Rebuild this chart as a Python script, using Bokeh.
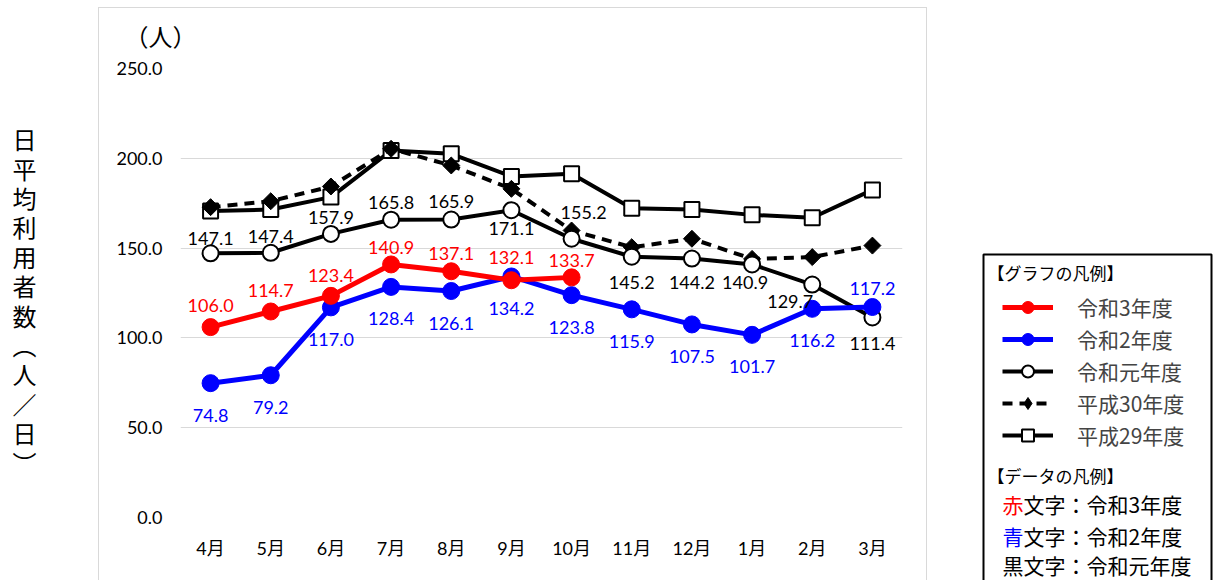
import numpy as np
from bokeh.plotting import figure
from bokeh.layouts import row, column
from bokeh.models import (ColumnDataSource, FactorRange, Range1d, LabelSet, Label, Legend,
                          LegendItem, BoxAnnotation, FixedTicker, NumeralTickFormatter)
from bokeh.core.properties import value
from bokeh.embed import file_html
from bokeh.resources import INLINE

# ---------------- data ----------------
months = ["4月", "5月", "6月", "7月", "8月", "9月", "10月", "11月", "12月", "1月", "2月", "3月"]
r3 = [106.0, 114.7, 123.4, 140.9, 137.1, 132.1, 133.7]
r2 = [74.8, 79.2, 117.0, 128.4, 126.1, 134.2, 123.8, 115.9, 107.5, 101.7, 116.2, 117.2]
r1 = [147.1, 147.4, 157.9, 165.8, 165.9, 171.1, 155.2, 145.2, 144.2, 140.9, 129.7, 111.4]
h30 = [172.8, 176.1, 184.3, 205.3, 196.0, 183.0, 159.8, 150.5, 155.2, 144.0, 145.0, 151.4]
h29 = [170.6, 171.5, 178.4, 204.3, 202.5, 189.9, 191.4, 172.2, 171.5, 168.5, 166.9, 182.4]
y_ticks = [0, 50, 100, 150, 200, 250]
series_names = ["令和3年度", "令和2年度", "令和元年度", "平成30年度", "平成29年度"]

# ---------------- label placement (screen px, up positive) ----------------
r3_dx = [0] * 7
r3_dy = [22, 21, 20, 17, 18, 23, 17]
r2_dx = [0] * 12
r2_dy = [-32] * 11 + [19]
r1_dx = [0, 0, 0, 0, 0, 0, 12, 0, 0, -7, -22, 0]
r1_dy = [15, 16, 16, 17, 18, -18, 26, -26, -24, -18, -17, -26]

NUM_FONT = "Lato"
JP_FONT = "Noto Sans CJK JP"
RED = "#ff0000"
BLUE = "#0000ff"
H = 580
W_MAIN = 829
GRAY = "#d9d9d9"


def bare(width, height):
    f = figure(width=width, height=height, x_range=Range1d(0, 1), y_range=Range1d(0, 1),
               x_axis_type=None, y_axis_type=None, output_backend="svg",
               toolbar_location=None, min_border=0)
    f.title.visible = False
    f.outline_line_color = None
    return f


# ---------------- main chart ----------------
p = figure(width=W_MAIN, height=H,
           x_range=FactorRange(*months, range_padding=0),
           y_range=Range1d(0, 250),
           output_backend="svg", toolbar_location=None,
           min_border_left=82, min_border_right=25,
           min_border_top=68, min_border_bottom=H - 517)
p.title.text = "（人）"
p.title.align = "left"
p.title.offset = -56
p.title.standoff = 31
p.title.text_font = JP_FONT
p.title.text_font_size = "24px"
p.title.text_font_style = "normal"
p.title.text_color = "black"
p.outline_line_color = None
p.background_fill_color = "white"
p.border_fill_color = None
# light-gray chart-area border (top at 8px, left and right edges)
p.styles = {
    "background-image": (f"linear-gradient({GRAY}, {GRAY}), linear-gradient({GRAY}, {GRAY}), "
                         f"linear-gradient({GRAY}, {GRAY})"),
    "background-size": "100% 1px, 1px 100%, 1px 100%",
    "background-position": "0 7px, 0 7px, right 0 top 7px",
    "background-repeat": "no-repeat",
}

p.xgrid.visible = False
p.ygrid.grid_line_color = GRAY
p.ygrid.grid_line_width = 1

p.yaxis.ticker = FixedTicker(ticks=y_ticks)
p.yaxis.formatter = NumeralTickFormatter(format="0.0")
for ax in (p.xaxis[0], p.yaxis[0]):
    ax.axis_line_color = None
    ax.major_tick_line_color = None
    ax.minor_tick_line_color = None
    ax.major_tick_out = 0
    ax.major_tick_in = 0
    ax.minor_tick_out = 0
    ax.major_label_text_color = "#000000"
    ax.major_label_text_font_size = "18px"
p.yaxis.major_label_text_font = NUM_FONT
p.yaxis.major_label_standoff = 18
p.xaxis.major_label_text_font = "Lato, 'Noto Sans CJK JP'"
p.xaxis.major_label_standoff = 19

STY = dict(
    h29=dict(line=dict(line_color="black", line_width=4),
             mark=dict(marker="square", size=15, fill_color="white", line_color="black", line_width=2)),
    h30=dict(line=dict(line_color="black", line_width=4, line_dash="10 7"),
             mark=dict(marker="square", angle=np.pi / 4, size=12, fill_color="black",
                       line_color="black", line_width=1)),
    r1=dict(line=dict(line_color="black", line_width=4),
            mark=dict(marker="circle", size=16, fill_color="white", line_color="black", line_width=2)),
    r2=dict(line=dict(line_color=BLUE, line_width=5),
            mark=dict(marker="circle", size=17, fill_color=BLUE, line_color=BLUE)),
    r3=dict(line=dict(line_color=RED, line_width=5),
            mark=dict(marker="circle", size=17, fill_color=RED, line_color=RED)),
)


def draw(vals, key):
    s = ColumnDataSource(dict(x=months[:len(vals)], y=vals))
    p.line("x", "y", source=s, **STY[key]["line"])
    p.scatter("x", "y", source=s, **STY[key]["mark"])


draw(h29, "h29")
draw(h30, "h30")
draw(r1, "r1")
draw(r2, "r2")
draw(r3, "r3")


def labels(vals, dx, dy, color):
    s = ColumnDataSource(dict(x=months[:len(vals)], y=vals,
                              text=[f"{v:.1f}" for v in vals], dx=dx, dy=dy))
    return LabelSet(x="x", y="y", text="text", source=s, x_offset="dx", y_offset="dy",
                    text_align="center", text_baseline="middle",
                    text_font=value(NUM_FONT), text_font_size=value("18px"),
                    text_color=color)


p.add_layout(labels(r1, r1_dx, r1_dy, "black"))
p.add_layout(labels(r2, r2_dx, r2_dy, BLUE))
p.add_layout(labels(r3, r3_dx, r3_dy, RED))

# ---------------- left: vertical axis title ----------------
left = bare(98, H)
left.add_layout(Label(x=24, y=H - 300, x_units="screen", y_units="screen",
                      text="日\n平\n均\n利\n用\n者\n数\n︵\n人\n／\n日\n︶",
                      text_font=JP_FONT, text_font_size="24px", text_color="black",
                      text_align="center", text_baseline="middle", text_line_height=0.84))

# ---------------- right: legend panel ----------------
lg = bare(288, H)
lg.add_layout(BoxAnnotation(left=56, right=284, top=H - 254, bottom=-20,
                            left_units="screen", right_units="screen",
                            top_units="screen", bottom_units="screen",
                            fill_color=None, fill_alpha=0,
                            line_color="black", line_alpha=1.0, line_width=2))

items = []
for key, name in zip(["r3", "r2", "r1", "h30", "h29"], series_names):
    s = ColumnDataSource(dict(x=[np.nan], y=[np.nan]))  # legend sample only, draws no point
    mark = dict(STY[key]["mark"])
    if key == "h30":
        mark.pop("angle")
        mark["marker"] = "diamond"
    lr = lg.line("x", "y", source=s, **STY[key]["line"])
    mr = lg.scatter("x", "y", source=s, **mark)
    items.append(LegendItem(label=name, renderers=[lr, mr]))

legend = Legend(items=items, location=(75, H - 450), orientation="vertical",
                padding=0, margin=0, spacing=2,
                glyph_height=30, glyph_width=51, label_height=30, label_standoff=24,
                label_text_font=JP_FONT, label_text_font_size="21px",
                border_line_color=None, background_fill_alpha=0)
lg.add_layout(legend)


def lab(x, y, text, size, color="black"):
    lg.add_layout(Label(x=x, y=H - y, x_units="screen", y_units="screen", text=text,
                        text_font=JP_FONT, text_font_size=size, text_color=color,
                        text_align="left", text_baseline="middle"))


lab(60, 272, "【グラフの凡例】", "17px")
lab(60, 475, "【データの凡例】", "17px")
lab(75, 503, "赤", "21px", color=RED)
lab(96, 503, "文字：令和3年度", "21px")
lab(75, 535, "青", "21px", color=BLUE)
lab(96, 535, "文字：令和2年度", "21px")
lab(75, 564, "黒文字：令和元年度", "21px")

layout = row(left, column(p), lg)
open("out.html", "w").write(file_html(layout, INLINE))
